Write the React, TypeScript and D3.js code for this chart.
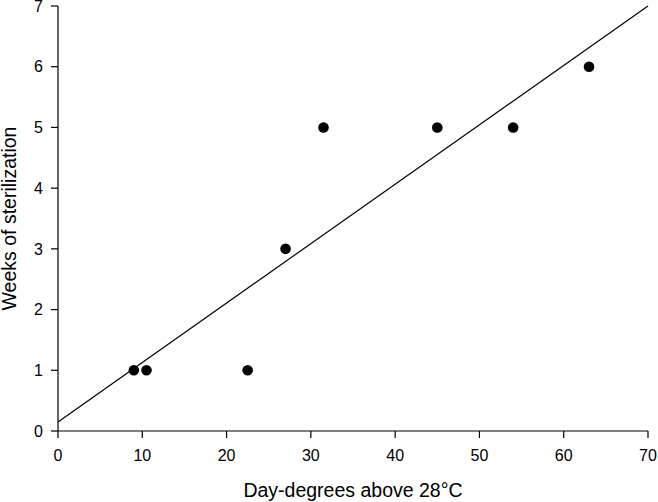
import * as d3 from 'd3'

const dayDegrees = [9, 10.5, 22.5, 27, 31.5, 45, 54, 63]
const weeks = [1, 1, 1, 3, 5, 5, 5, 6]
const fitX = [0, 70]
const fitY = [0.15, 7.0]
const xTicks = [0, 10, 20, 30, 40, 50, 60, 70]
const yTicks = [0, 1, 2, 3, 4, 5, 6, 7]

const W = 658
const H = 502
const margin = { top: 6, right: 10, bottom: 71, left: 58 }
const font = 'Liberation Sans, Arial, sans-serif'

export default function App() {
  const x = d3.scaleLinear().domain([0, 70]).range([margin.left, W - margin.right])
  const y = d3.scaleLinear().domain([0, 7]).range([H - margin.bottom, margin.top])
  const x0 = x(0)
  const y0 = y(0)

  const line = d3
    .line<number>()
    .x((_, i) => x(fitX[i]))
    .y((d) => y(d))

  return (
    <svg
      width={W}
      height={H}
      style={{ position: 'absolute', left: 0, top: 0, background: '#fff' }}
      fontFamily={font}
    >
      {/* fit line */}
      <path d={line(fitY) ?? ''} fill="none" stroke="#000" strokeWidth={1.2} />

      {/* points */}
      {dayDegrees.map((d, i) => (
        <circle key={i} cx={x(d)} cy={y(weeks[i])} r={5.3} fill="#000" />
      ))}

      {/* x axis */}
      <line x1={x(0)} x2={x(70)} y1={y0} y2={y0} stroke="#000" strokeWidth={1.2} />
      {xTicks.map((t) => (
        <g key={t}>
          <line x1={x(t)} x2={x(t)} y1={y0} y2={y0 + 7} stroke="#000" strokeWidth={1.2} />
          <text x={x(t)} y={y0 + 30} textAnchor="middle" fontSize={16}>
            {t}
          </text>
        </g>
      ))}

      {/* y axis */}
      <line x1={x0} x2={x0} y1={y(0)} y2={y(7)} stroke="#000" strokeWidth={1.2} />
      {yTicks.map((t) => (
        <g key={t}>
          <line x1={x0 - 7} x2={x0} y1={y(t)} y2={y(t)} stroke="#000" strokeWidth={1.2} />
          <text x={x0 - 15} y={y(t)} dy="0.36em" textAnchor="end" fontSize={16}>
            {t}
          </text>
        </g>
      ))}

      {/* titles */}
      <text x={(x(0) + x(70)) / 2} y={497} textAnchor="middle" fontSize={19.5}>
        Day-degrees above 28°C
      </text>
      <text
        transform={`translate(16,${(y(0) + y(7)) / 2}) rotate(-90)`}
        textAnchor="middle"
        fontSize={19.5}
      >
        Weeks of sterilization
      </text>
    </svg>
  )
}
